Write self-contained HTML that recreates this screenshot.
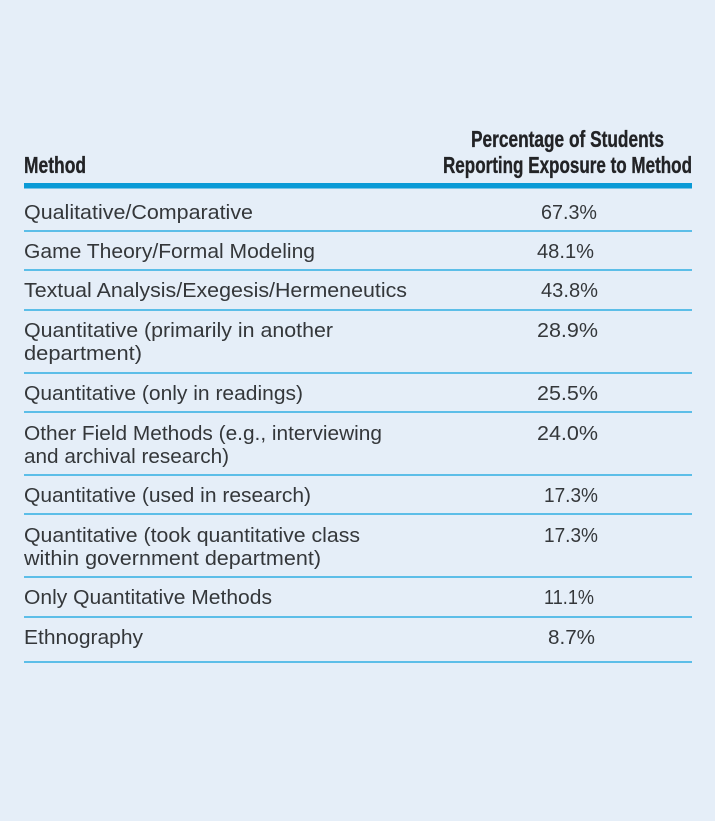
<!DOCTYPE html>
<html lang="en">
<head>
<meta charset="utf-8">
<title>Percentage of Students Reporting Exposure to Method</title>
<style>
html,body{margin:0;padding:0;width:715px;height:821px;overflow:hidden;background:#e5eef8}
svg{display:block}
text{font-family:"Liberation Sans",sans-serif}
.c{font-size:20px;fill:#34373a}
.h{font-size:23px;font-weight:bold;fill:#222326;stroke:#222326;stroke-width:.35}
.r{stroke:#2eaee2;stroke-width:1.5}
</style>
</head>
<body>
<svg width="715" height="821" viewBox="0 0 715 821" xmlns="http://www.w3.org/2000/svg">
<rect width="715" height="821" fill="#e5eef8"/>

<text class="h" x="24" y="173" textLength="62" lengthAdjust="spacingAndGlyphs">Method</text>
<text class="h" x="471" y="147" textLength="193" lengthAdjust="spacingAndGlyphs">Percentage of Students</text>
<text class="h" x="443" y="173" textLength="249" lengthAdjust="spacingAndGlyphs">Reporting Exposure to Method</text>
<rect x="24" y="183" width="668" height="5.5" fill="#0a9ad6"/>

<g>
<text class="c" x="24" y="219" textLength="229" lengthAdjust="spacingAndGlyphs">Qualitative/Comparative</text>
<text class="c" x="541" y="219" textLength="56" lengthAdjust="spacingAndGlyphs">67.3%</text>
<line class="r" x1="24" x2="692" y1="231" y2="231"/>
</g>
<g>
<text class="c" x="24" y="258" textLength="291" lengthAdjust="spacingAndGlyphs">Game Theory/Formal Modeling</text>
<text class="c" x="537" y="258" textLength="57" lengthAdjust="spacingAndGlyphs">48.1%</text>
<line class="r" x1="24" x2="692" y1="270" y2="270"/>
</g>
<g>
<text class="c" x="24" y="297" textLength="383" lengthAdjust="spacingAndGlyphs">Textual Analysis/Exegesis/Hermeneutics</text>
<text class="c" x="541" y="297" textLength="57" lengthAdjust="spacingAndGlyphs">43.8%</text>
<line class="r" x1="24" x2="692" y1="310" y2="310"/>
</g>
<g>
<text class="c" x="24" y="337" textLength="309" lengthAdjust="spacingAndGlyphs">Quantitative (primarily in another</text>
<text class="c" x="24" y="360" textLength="118" lengthAdjust="spacingAndGlyphs">department)</text>
<text class="c" x="537" y="337" textLength="61" lengthAdjust="spacingAndGlyphs">28.9%</text>
<line class="r" x1="24" x2="692" y1="373" y2="373"/>
</g>
<g>
<text class="c" x="24" y="400" textLength="279" lengthAdjust="spacingAndGlyphs">Quantitative (only in readings)</text>
<text class="c" x="537" y="400" textLength="61" lengthAdjust="spacingAndGlyphs">25.5%</text>
<line class="r" x1="24" x2="692" y1="412" y2="412"/>
</g>
<g>
<text class="c" x="24" y="440" textLength="358" lengthAdjust="spacingAndGlyphs">Other Field Methods (e.g., interviewing</text>
<text class="c" x="24" y="463" textLength="205" lengthAdjust="spacingAndGlyphs">and archival research)</text>
<text class="c" x="537" y="440" textLength="61" lengthAdjust="spacingAndGlyphs">24.0%</text>
<line class="r" x1="24" x2="692" y1="475" y2="475"/>
</g>
<g>
<text class="c" x="24" y="502" textLength="287" lengthAdjust="spacingAndGlyphs">Quantitative (used in research)</text>
<text class="c" x="544" y="502" textLength="54" lengthAdjust="spacingAndGlyphs">17.3%</text>
<line class="r" x1="24" x2="692" y1="514" y2="514"/>
</g>
<g>
<text class="c" x="24" y="542" textLength="336" lengthAdjust="spacingAndGlyphs">Quantitative (took quantitative class</text>
<text class="c" x="24" y="565" textLength="297" lengthAdjust="spacingAndGlyphs">within government department)</text>
<text class="c" x="544" y="542" textLength="54" lengthAdjust="spacingAndGlyphs">17.3%</text>
<line class="r" x1="24" x2="692" y1="577" y2="577"/>
</g>
<g>
<text class="c" x="24" y="604" textLength="248" lengthAdjust="spacingAndGlyphs">Only Quantitative Methods</text>
<text class="c" x="544" y="604" textLength="50" lengthAdjust="spacingAndGlyphs">11.1%</text>
<line class="r" x1="24" x2="692" y1="617" y2="617"/>
</g>
<g>
<text class="c" x="24" y="644" textLength="119" lengthAdjust="spacingAndGlyphs">Ethnography</text>
<text class="c" x="548" y="644" textLength="47" lengthAdjust="spacingAndGlyphs">8.7%</text>
<line class="r" x1="24" x2="692" y1="662" y2="662"/>
</g>
</svg>
</body>
</html>
